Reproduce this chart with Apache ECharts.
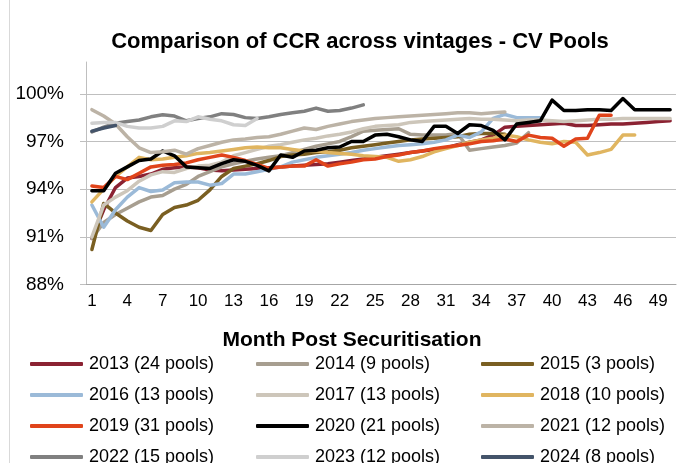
<!DOCTYPE html>
<html><head><meta charset="utf-8">
<script src="https://cdn.jsdelivr.net/npm/echarts@6/dist/echarts.min.js"></script>
<style>html,body{margin:0;padding:0;background:#fff}#c{width:693px;height:463px}</style>
</head><body><div id="c"></div><script>
const months = ['1','2','3','4','5','6','7','8','9','10','11','12','13','14','15','16','17','18','19','20','21','22','23','24','25','26','27','28','29','30','31','32','33','34','35','36','37','38','39','40','41','42','43','44','45','46','47','48','49','50'];
const yTicks = [88, 91, 94, 97, 100];
const names = ['2013 (24 pools)','2014 (9 pools)','2015 (3 pools)','2016 (13 pools)','2017 (13 pools)','2018 (10 pools)','2019 (31 pools)','2020 (21 pools)','2021 (12 pools)','2022 (15 pools)','2023 (12 pools)','2024 (8 pools)'];
const colors = ['#8b2232','#a79e90','#7a5f22','#9bbad8','#cdc6ba','#e0b560','#e0441b','#000000','#bcb3a6','#808080','#cfcfcf','#44546a'];

const v2013 = [90.9,92.7,94.1,94.7,94.8,94.95,95.25,95.35,95.4,95.35,95.2,95.15,95.2,95.25,95.3,95.35,95.4,95.45,95.5,95.55,95.6,95.7,95.8,95.9,96.0,96.1,96.2,96.3,96.4,96.5,96.6,96.8,96.95,97.1,97.4,97.9,97.95,98.0,98.05,98.1,98.15,98.0,98.0,98.05,98.1,98.1,98.15,98.2,98.25,98.3];
const v2014 = [90.9,91.9,92.4,92.8,93.2,93.5,93.6,94.0,94.3,94.8,95.1,95.4,95.6,95.75,95.9,96.0,96.1,96.3,96.5,96.7,96.85,97.0,97.3,97.65,97.7,97.75,97.8,97.45,97.4,97.4,97.4,97.5,96.45,96.55,96.65,96.75,96.9,97.55];
const v2015 = [90.2,93.1,92.5,92.0,91.6,91.4,92.4,92.85,93.0,93.3,93.95,94.8,95.3,95.45,95.6,95.8,96.05,96.15,96.2,96.3,96.35,96.45,96.6,96.7,96.8,96.9,97.0,97.1,97.15,97.2,97.25,97.3,97.45,97.5,97.5,97.45];
const v2016 = [93.0,91.6,92.7,93.5,94.1,93.85,93.95,94.4,94.45,94.45,94.25,94.35,94.95,94.95,95.1,95.25,95.4,95.7,95.85,96.0,96.1,96.2,96.3,96.45,96.55,96.65,96.75,96.8,96.85,96.95,97.1,97.4,97.25,97.6,98.45,98.7,98.5,98.5,98.5];
const v2017 = [91.0,93.0,93.5,93.9,94.5,94.9,95.1,95.05,95.3,95.45,95.5,95.7,96.1,96.3,96.5,96.7,96.8,96.95,97.1,97.2,97.35,97.45,97.6,97.8,97.95,98.0,98.05,98.2,98.25,98.3,98.35,98.4,98.45,98.4,98.4,98.35,98.3,98.35,98.35,98.3,98.25,98.3,98.35,98.4,98.4,98.45,98.45,98.45,98.45,98.45];
const v2018 = [93.2,94.0,94.8,95.4,96.0,95.85,95.9,96.0,96.1,96.25,96.3,96.4,96.5,96.6,96.65,96.6,96.6,96.5,96.4,96.4,96.3,96.25,96.2,96.1,96.05,96.0,95.75,95.85,96.05,96.35,96.55,96.75,96.95,97.1,97.2,97.4,97.3,97.1,96.95,96.85,97.0,96.95,96.15,96.3,96.5,97.4,97.4];
const v2019 = [94.2,94.1,94.8,94.6,95.0,95.4,95.5,95.55,95.65,95.85,96.0,96.15,96.0,95.8,95.55,95.3,95.4,95.45,95.45,95.85,95.45,95.6,95.7,95.85,95.9,96.05,96.15,96.3,96.4,96.55,96.65,96.75,96.85,97.0,97.05,97.15,97.0,97.4,97.25,97.2,96.7,97.15,97.2,98.65,98.65];
const v2020 = [93.9,93.9,95.0,95.4,95.8,95.9,96.4,96.1,95.4,95.35,95.3,95.6,95.85,95.75,95.5,95.15,96.15,96.0,96.4,96.45,96.6,96.65,97.0,97.0,97.4,97.45,97.3,97.1,97.0,97.95,97.95,97.5,98.05,98.0,97.7,97.1,98.1,98.2,98.3,99.6,98.95,98.95,99.0,99.0,98.95,99.7,99.0,99.0,99.0,99.0];
const v2021 = [99.0,98.6,98.1,97.3,96.6,96.3,96.35,96.45,96.2,96.55,96.75,96.95,97.1,97.15,97.25,97.3,97.45,97.65,97.85,97.75,97.95,98.1,98.25,98.35,98.45,98.5,98.55,98.6,98.65,98.7,98.75,98.8,98.8,98.75,98.8,98.85];
const v2022 = [97.6,97.9,98.15,98.25,98.35,98.55,98.68,98.6,98.3,98.45,98.55,98.75,98.7,98.5,98.45,98.55,98.7,98.8,98.9,99.1,98.9,98.95,99.1,99.3];
const v2023 = [98.15,98.2,98.2,97.95,97.85,97.85,97.95,98.3,98.25,98.55,98.4,98.3,98.05,98.0,98.45];
const v2024 = [97.65,97.85,98.0];
const values = [v2013,v2014,v2015,v2016,v2017,v2018,v2019,v2020,v2021,v2022,v2023,v2024];

const FONT = '"Liberation Sans", Arial, sans-serif';
const chart = echarts.init(document.getElementById('c'), null, {renderer:'canvas'});
const series = names.map((n,i)=>({
  name:n, type:'line', data:values[i], symbol:'none', showSymbol:false,
  lineStyle:{width:3.5, color:colors[i], cap:'round', join:'round'},
  itemStyle:{color:colors[i]}, emphasis:{disabled:true}, z:2+i
}));
function legendCol(left, idx){
  return {orient:'vertical', left:left, top:355, height:130, itemWidth:53, itemHeight:4, itemGap:13, icon:'roundRect',
    selectedMode:false, data:idx.map(i=>names[i]), textStyle:{fontSize:18, lineHeight:16, color:'#000', fontFamily:FONT, padding:[0,0,0,1]}, padding:0};
}
chart.setOption({
  animation:false,
  backgroundColor:'#fff',
  color:colors,
  grid:{left:86, right:17, top:62, bottom:178.5, containLabel:false},
  xAxis:{type:'category', data:months, boundaryGap:true,
    axisLine:{lineStyle:{color:'#a6a6a6', width:1}},
    axisTick:{interval:0, length:6, lineStyle:{color:'#a6a6a6'}},
    axisLabel:{interval:2, fontSize:17, color:'#000', fontFamily:FONT, margin:8},
    splitLine:{show:false}},
  yAxis:{type:'value', min:88, max:102, interval:3,
    axisLine:{show:true, lineStyle:{color:'#bfbfbf'}},
    axisTick:{show:true, length:6, lineStyle:{color:'#bfbfbf'}},
    axisLabel:{fontSize:19, color:'#000', fontFamily:FONT, margin:22, showMaxLabel:false,
      formatter:v=> yTicks.indexOf(v)>=0 ? v+'%' : ''},
    splitLine:{show:true, showMaxLine:false, lineStyle:{color:'#bfbfbf', width:1}}},
  legend:[legendCol(30,[0,3,6,9]), legendCol(256,[1,4,7,10]), legendCol(481,[2,5,8,11])],
  graphic:[
    {type:'line', shape:{x1:9.5,y1:0,x2:9.5,y2:463}, style:{stroke:'#d9d9d9', lineWidth:1}, silent:true},
    {type:'text', x:360, y:42, style:{text:'Comparison of CCR across vintages - CV Pools', font:'bold 22px '+FONT, fill:'#000', textAlign:'center', textVerticalAlign:'middle'}},
    {type:'text', x:352, y:340, style:{text:'Month Post Securitisation', font:'bold 21px '+FONT, fill:'#000', textAlign:'center', textVerticalAlign:'middle'}}
  ],
  series:series
});
</script></body></html>
